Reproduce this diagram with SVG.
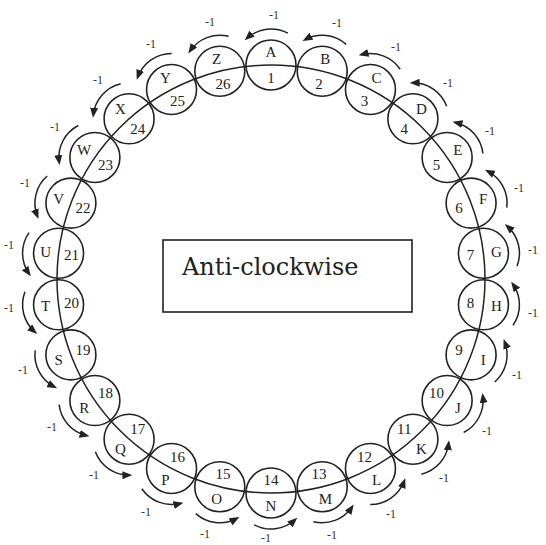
<svg xmlns="http://www.w3.org/2000/svg" xmlns:xlink="http://www.w3.org/1999/xlink" width="546" height="545" viewBox="0 0 546 545">
<style>
.c{fill:none;stroke:#222;stroke-width:1.6}
.ring{fill:none;stroke:#222;stroke-width:1.5}
.t{font-family:"Liberation Serif","Times New Roman",serif;font-size:15px;fill:#222;text-anchor:middle}
.l{font-family:"Liberation Serif","Times New Roman",serif;font-size:12px;fill:#333;text-anchor:middle}
.a{fill:none;stroke:#222;stroke-width:1.5}
.box{fill:#fff;stroke:#222;stroke-width:1.6}
.title{font-family:"DejaVu Serif","Liberation Serif",serif;font-size:24px;fill:#222}
</style>
<defs>
<marker id="ah" viewBox="0 0 10 8" refX="7" refY="4" markerWidth="10" markerHeight="8" markerUnits="userSpaceOnUse" orient="auto">
<path d="M0,0 L10,4 L0,8 z" fill="#222"/>
</marker>
<path id="arr" class="a" d="M31.79,16.90 A36,36 0 0 0 26.75,-24.09" marker-end="url(#ah)"/>
</defs>
<rect width="546" height="545" fill="#fff"/>
<g id="ring"><circle class="ring" cx="271" cy="279" r="214"/></g>
<g id="connectors">
<use xlink:href="#arr" transform="translate(271,65) rotate(-90)"/>
<use xlink:href="#arr" transform="translate(322.21,71.22) rotate(-76.154)"/>
<use xlink:href="#arr" transform="translate(370.45,89.51) rotate(-62.308)"/>
<use xlink:href="#arr" transform="translate(412.91,118.82) rotate(-48.462)"/>
<use xlink:href="#arr" transform="translate(447.12,157.44) rotate(-34.615)"/>
<use xlink:href="#arr" transform="translate(471.09,203.12) rotate(-20.769)"/>
<use xlink:href="#arr" transform="translate(483.44,253.2) rotate(-6.923)"/>
<use xlink:href="#arr" transform="translate(483.44,304.8) rotate(6.923)"/>
<use xlink:href="#arr" transform="translate(471.09,354.88) rotate(20.769)"/>
<use xlink:href="#arr" transform="translate(447.12,400.56) rotate(34.615)"/>
<use xlink:href="#arr" transform="translate(412.91,439.18) rotate(48.462)"/>
<use xlink:href="#arr" transform="translate(370.45,468.49) rotate(62.308)"/>
<use xlink:href="#arr" transform="translate(322.21,486.78) rotate(76.154)"/>
<use xlink:href="#arr" transform="translate(271,493) rotate(90)"/>
<use xlink:href="#arr" transform="translate(219.79,486.78) rotate(103.846)"/>
<use xlink:href="#arr" transform="translate(171.55,468.49) rotate(117.692)"/>
<use xlink:href="#arr" transform="translate(129.09,439.18) rotate(131.538)"/>
<use xlink:href="#arr" transform="translate(94.88,400.56) rotate(145.385)"/>
<use xlink:href="#arr" transform="translate(70.91,354.88) rotate(159.231)"/>
<use xlink:href="#arr" transform="translate(58.56,304.8) rotate(173.077)"/>
<use xlink:href="#arr" transform="translate(58.56,253.2) rotate(186.923)"/>
<use xlink:href="#arr" transform="translate(70.91,203.12) rotate(200.769)"/>
<use xlink:href="#arr" transform="translate(94.88,157.44) rotate(214.615)"/>
<use xlink:href="#arr" transform="translate(129.09,118.82) rotate(228.462)"/>
<use xlink:href="#arr" transform="translate(171.55,89.51) rotate(242.308)"/>
<use xlink:href="#arr" transform="translate(219.79,71.22) rotate(256.154)"/>
<text class="l" x="274" y="19">-1</text>
<text class="l" x="337" y="27">-1</text>
<text class="l" x="396" y="51">-1</text>
<text class="l" x="448" y="87">-1</text>
<text class="l" x="490" y="135">-1</text>
<text class="l" x="519" y="192">-1</text>
<text class="l" x="533" y="254">-1</text>
<text class="l" x="533" y="317">-1</text>
<text class="l" x="517" y="379">-1</text>
<text class="l" x="487" y="435">-1</text>
<text class="l" x="444" y="482">-1</text>
<text class="l" x="391" y="518">-1</text>
<text class="l" x="332" y="539">-1</text>
<text class="l" x="266" y="542">-1</text>
<text class="l" x="205" y="538">-1</text>
<text class="l" x="146" y="516">-1</text>
<text class="l" x="94" y="479">-1</text>
<text class="l" x="52" y="431">-1</text>
<text class="l" x="23" y="374">-1</text>
<text class="l" x="9" y="312">-1</text>
<text class="l" x="9" y="249">-1</text>
<text class="l" x="25" y="187">-1</text>
<text class="l" x="55" y="131">-1</text>
<text class="l" x="98" y="84">-1</text>
<text class="l" x="151" y="48">-1</text>
<text class="l" x="210" y="26">-1</text>
</g>
<g id="node-A" transform="translate(271,65)"><circle class="c" r="25"/><text class="t" x="0" y="-8">A</text><text class="t" x="0" y="18">1</text></g>
<g id="node-B" transform="translate(322.21,71.22)"><circle class="c" r="25"/><text class="t" x="3.11" y="-7.62">B</text><text class="t" x="-3.11" y="17.62">2</text></g>
<g id="node-C" transform="translate(370.45,89.51)"><circle class="c" r="25"/><text class="t" x="6.04" y="-6.51">C</text><text class="t" x="-6.04" y="16.51">3</text></g>
<g id="node-D" transform="translate(412.91,118.82)"><circle class="c" r="25"/><text class="t" x="8.62" y="-4.73">D</text><text class="t" x="-8.62" y="14.73">4</text></g>
<g id="node-E" transform="translate(447.12,157.44)"><circle class="c" r="25"/><text class="t" x="10.7" y="-2.38">E</text><text class="t" x="-10.7" y="12.38">5</text></g>
<g id="node-F" transform="translate(471.09,203.12)"><circle class="c" r="25"/><text class="t" x="12.16" y="0.39">F</text><text class="t" x="-12.16" y="9.61">6</text></g>
<g id="node-G" transform="translate(483.44,253.2)"><circle class="c" r="25"/><text class="t" x="12.91" y="3.43">G</text><text class="t" x="-12.91" y="6.57">7</text></g>
<g id="node-H" transform="translate(483.44,304.8)"><circle class="c" r="25"/><text class="t" x="12.91" y="6.57">H</text><text class="t" x="-12.91" y="3.43">8</text></g>
<g id="node-I" transform="translate(471.09,354.88)"><circle class="c" r="25"/><text class="t" x="12.16" y="9.61">I</text><text class="t" x="-12.16" y="0.39">9</text></g>
<g id="node-J" transform="translate(447.12,400.56)"><circle class="c" r="25"/><text class="t" x="10.7" y="12.38">J</text><text class="t" x="-10.7" y="-2.38">10</text></g>
<g id="node-K" transform="translate(412.91,439.18)"><circle class="c" r="25"/><text class="t" x="8.62" y="14.73">K</text><text class="t" x="-8.62" y="-4.73">11</text></g>
<g id="node-L" transform="translate(370.45,468.49)"><circle class="c" r="25"/><text class="t" x="6.04" y="16.51">L</text><text class="t" x="-6.04" y="-6.51">12</text></g>
<g id="node-M" transform="translate(322.21,486.78)"><circle class="c" r="25"/><text class="t" x="3.11" y="17.62">M</text><text class="t" x="-3.11" y="-7.62">13</text></g>
<g id="node-N" transform="translate(271,493)"><circle class="c" r="25"/><text class="t" x="0" y="18">N</text><text class="t" x="0" y="-8">14</text></g>
<g id="node-O" transform="translate(219.79,486.78)"><circle class="c" r="25"/><text class="t" x="-3.11" y="17.62">O</text><text class="t" x="3.11" y="-7.62">15</text></g>
<g id="node-P" transform="translate(171.55,468.49)"><circle class="c" r="25"/><text class="t" x="-6.04" y="16.51">P</text><text class="t" x="6.04" y="-6.51">16</text></g>
<g id="node-Q" transform="translate(129.09,439.18)"><circle class="c" r="25"/><text class="t" x="-8.62" y="14.73">Q</text><text class="t" x="8.62" y="-4.73">17</text></g>
<g id="node-R" transform="translate(94.88,400.56)"><circle class="c" r="25"/><text class="t" x="-10.7" y="12.38">R</text><text class="t" x="10.7" y="-2.38">18</text></g>
<g id="node-S" transform="translate(70.91,354.88)"><circle class="c" r="25"/><text class="t" x="-12.16" y="9.61">S</text><text class="t" x="12.16" y="0.39">19</text></g>
<g id="node-T" transform="translate(58.56,304.8)"><circle class="c" r="25"/><text class="t" x="-12.91" y="6.57">T</text><text class="t" x="12.91" y="3.43">20</text></g>
<g id="node-U" transform="translate(58.56,253.2)"><circle class="c" r="25"/><text class="t" x="-12.91" y="3.43">U</text><text class="t" x="12.91" y="6.57">21</text></g>
<g id="node-V" transform="translate(70.91,203.12)"><circle class="c" r="25"/><text class="t" x="-12.16" y="0.39">V</text><text class="t" x="12.16" y="9.61">22</text></g>
<g id="node-W" transform="translate(94.88,157.44)"><circle class="c" r="25"/><text class="t" x="-10.7" y="-2.38">W</text><text class="t" x="10.7" y="12.38">23</text></g>
<g id="node-X" transform="translate(129.09,118.82)"><circle class="c" r="25"/><text class="t" x="-8.62" y="-4.73">X</text><text class="t" x="8.62" y="14.73">24</text></g>
<g id="node-Y" transform="translate(171.55,89.51)"><circle class="c" r="25"/><text class="t" x="-6.04" y="-6.51">Y</text><text class="t" x="6.04" y="16.51">25</text></g>
<g id="node-Z" transform="translate(219.79,71.22)"><circle class="c" r="25"/><text class="t" x="-3.11" y="-7.62">Z</text><text class="t" x="3.11" y="17.62">26</text></g>
<g id="box"><rect class="box" x="163" y="240" width="249" height="72"/><text class="title" x="182" y="275">Anti-clockwise</text></g>
</svg>
